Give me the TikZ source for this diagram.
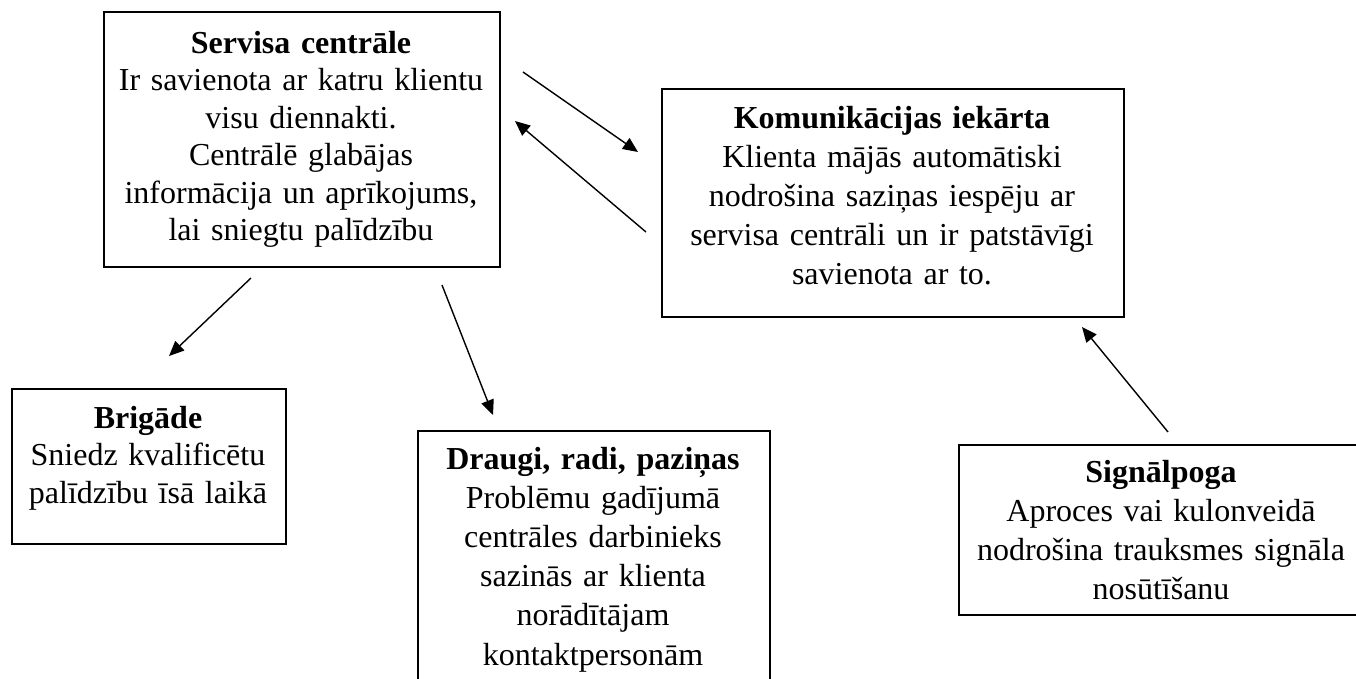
\documentclass[tikz,border=0pt]{standalone}
\usepackage{fontspec}
\setmainfont{Liberation Serif}
\usetikzlibrary{arrows.meta}
\tikzset{
  boxnode/.style={draw=black, line width=1.6pt, rectangle, inner sep=0pt},
  txtA/.style={text width=460pt, align=center, inner sep=0pt, anchor=base, font=\fontsize{32}{37.5}\selectfont},
  txtB/.style={text width=460pt, align=center, inner sep=0pt, anchor=base, font=\fontsize{32}{39.2}\selectfont},
  conn/.style={line width=1.4pt, -{Triangle[length=15pt,width=13pt]}}
}
\begin{document}
\begin{tikzpicture}[x=1pt,y=-1pt]
\clip (0,0) rectangle (1356,678);
\fill[white] (0,0) rectangle (1356,678);
% boxes
\node[boxnode, minimum width=396pt, minimum height=255pt, anchor=north west] (b1) at (103,11) {};
\node[boxnode, minimum width=462pt, minimum height=228pt, anchor=north west] (b2) at (661,88) {};
\node[boxnode, minimum width=274pt, minimum height=155pt, anchor=north west] (b3) at (11,388) {};
\node[boxnode, minimum width=352pt, minimum height=280pt, anchor=north west] (b4) at (417,430) {};
\node[boxnode, minimum width=406pt, minimum height=170pt, anchor=north west] (b5) at (958,444) {};
% texts
\node[txtA] (t1) at (301,53) {\textbf{Servisa centrāle}\\Ir savienota ar katru klientu\\visu diennakti.\\Centrālē glabājas\\informācija un aprīkojums,\\lai sniegtu palīdzību};
\node[txtB] (t2) at (892,128) {\textbf{Komunikācijas iekārta}\\Klienta mājās automātiski\\nodrošina saziņas iespēju ar\\servisa centrāli un ir patstāvīgi\\savienota ar to.};
\node[txtA] (t3) at (148,428) {\textbf{Brigāde}\\Sniedz kvalificētu\\palīdzību īsā laikā};
\node[txtB] (t4) at (593,469) {\textbf{Draugi, radi, paziņas}\\Problēmu gadījumā\\centrāles darbinieks\\sazinās ar klienta\\norādītājam\\kontaktpersonām};
\node[txtB] (t5) at (1161,482) {\textbf{Signālpoga}\\Aproces vai kulonveidā\\nodrošina trauksmes signāla\\nosūtīšanu};
% connector ends
\coordinate (a1s) at (523,72);   \coordinate (a1e) at (638,152);
\coordinate (a2s) at (646,232);  \coordinate (a2e) at (515,121);
\coordinate (a3s) at (251,278);  \coordinate (a3e) at (169,356);
\coordinate (a4s) at (442,285);  \coordinate (a4e) at (493,415);
\coordinate (a5s) at (1168,432); \coordinate (a5e) at (1082,327);
\draw[conn] (a1s) -- (a1e);
\draw[conn] (a2s) -- (a2e);
\draw[conn] (a3s) -- (a3e);
\draw[conn] (a4s) -- (a4e);
\draw[conn] (a5s) -- (a5e);
\end{tikzpicture}
\end{document}
